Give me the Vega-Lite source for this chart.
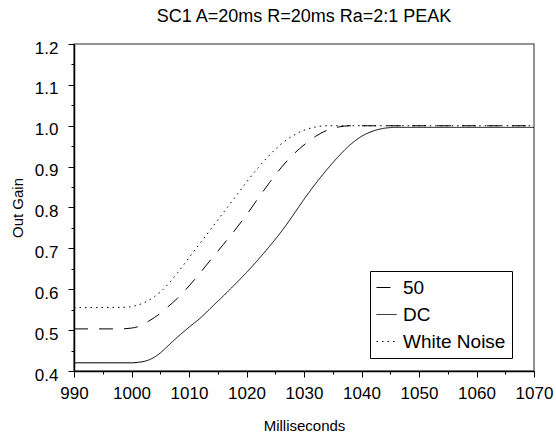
{
  "$schema": "https://vega.github.io/schema/vega-lite/v6.json",
  "width": 460,
  "height": 327,
  "autosize": "none",
  "padding": {"left": 74, "top": 44, "right": 22, "bottom": 66},
  "background": "white",
  "title": {"text": "SC1 A=20ms R=20ms Ra=2:1 PEAK", "font": "Liberation Sans", "fontSize": 18, "fontWeight": "normal", "color": "black", "anchor": "middle", "offset": 13},
  "config": {
    "view": {"stroke": "#707070", "strokeWidth": 1.5},
    "axis": {"labelFont": "Liberation Sans", "titleFont": "Liberation Sans", "labelFontSize": 17, "titleFontSize": 15, "titleFontWeight": "normal", "labelColor": "black", "titleColor": "black", "domainColor": "black", "domainWidth": 1.5, "tickColor": "black", "tickWidth": 1, "grid": false, "labelFlush": false, "labelOverlap": false},
    "legend": {"labelFont": "Liberation Sans", "labelFontSize": 19, "labelColor": "black"}
  },
  "data": {"values": [
    {"t": 990, "g": 0.503, "s": "50"}, {"t": 998, "g": 0.503, "s": "50"}, {"t": 1000, "g": 0.505, "s": "50"}, {"t": 1001, "g": 0.508, "s": "50"}, {"t": 1002, "g": 0.514, "s": "50"}, {"t": 1003, "g": 0.522, "s": "50"}, {"t": 1004, "g": 0.531, "s": "50"}, {"t": 1005, "g": 0.541, "s": "50"}, {"t": 1006, "g": 0.553, "s": "50"}, {"t": 1008, "g": 0.578, "s": "50"}, {"t": 1010, "g": 0.608, "s": "50"}, {"t": 1012, "g": 0.641, "s": "50"}, {"t": 1014, "g": 0.676, "s": "50"}, {"t": 1016, "g": 0.71, "s": "50"}, {"t": 1018, "g": 0.745, "s": "50"}, {"t": 1020, "g": 0.782, "s": "50"}, {"t": 1022, "g": 0.822, "s": "50"}, {"t": 1024, "g": 0.861, "s": "50"}, {"t": 1026, "g": 0.897, "s": "50"}, {"t": 1028, "g": 0.928, "s": "50"}, {"t": 1030, "g": 0.953, "s": "50"}, {"t": 1032, "g": 0.974, "s": "50"}, {"t": 1034, "g": 0.989, "s": "50"}, {"t": 1036, "g": 0.997, "s": "50"}, {"t": 1038, "g": 1.0, "s": "50"}, {"t": 1070, "g": 1.0, "s": "50"},
    {"t": 990, "g": 0.42, "s": "DC"}, {"t": 1000, "g": 0.42, "s": "DC"}, {"t": 1001, "g": 0.421, "s": "DC"}, {"t": 1002, "g": 0.423, "s": "DC"}, {"t": 1003, "g": 0.427, "s": "DC"}, {"t": 1004, "g": 0.434, "s": "DC"}, {"t": 1005, "g": 0.444, "s": "DC"}, {"t": 1006, "g": 0.457, "s": "DC"}, {"t": 1008, "g": 0.483, "s": "DC"}, {"t": 1010, "g": 0.507, "s": "DC"}, {"t": 1012, "g": 0.53, "s": "DC"}, {"t": 1014, "g": 0.557, "s": "DC"}, {"t": 1016, "g": 0.584, "s": "DC"}, {"t": 1018, "g": 0.612, "s": "DC"}, {"t": 1020, "g": 0.641, "s": "DC"}, {"t": 1022, "g": 0.672, "s": "DC"}, {"t": 1024, "g": 0.705, "s": "DC"}, {"t": 1026, "g": 0.74, "s": "DC"}, {"t": 1028, "g": 0.779, "s": "DC"}, {"t": 1030, "g": 0.82, "s": "DC"}, {"t": 1032, "g": 0.858, "s": "DC"}, {"t": 1034, "g": 0.893, "s": "DC"}, {"t": 1036, "g": 0.925, "s": "DC"}, {"t": 1038, "g": 0.953, "s": "DC"}, {"t": 1040, "g": 0.974, "s": "DC"}, {"t": 1042, "g": 0.987, "s": "DC"}, {"t": 1044, "g": 0.994, "s": "DC"}, {"t": 1046, "g": 0.996, "s": "DC"}, {"t": 1070, "g": 0.996, "s": "DC"},
    {"t": 990, "g": 0.555, "s": "White Noise"}, {"t": 999, "g": 0.556, "s": "White Noise"}, {"t": 1001, "g": 0.561, "s": "White Noise"}, {"t": 1002, "g": 0.566, "s": "White Noise"}, {"t": 1003, "g": 0.573, "s": "White Noise"}, {"t": 1004, "g": 0.582, "s": "White Noise"}, {"t": 1005, "g": 0.593, "s": "White Noise"}, {"t": 1006, "g": 0.607, "s": "White Noise"}, {"t": 1008, "g": 0.64, "s": "White Noise"}, {"t": 1010, "g": 0.677, "s": "White Noise"}, {"t": 1012, "g": 0.714, "s": "White Noise"}, {"t": 1014, "g": 0.751, "s": "White Noise"}, {"t": 1016, "g": 0.788, "s": "White Noise"}, {"t": 1018, "g": 0.825, "s": "White Noise"}, {"t": 1020, "g": 0.862, "s": "White Noise"}, {"t": 1022, "g": 0.897, "s": "White Noise"}, {"t": 1024, "g": 0.928, "s": "White Noise"}, {"t": 1026, "g": 0.955, "s": "White Noise"}, {"t": 1028, "g": 0.975, "s": "White Noise"}, {"t": 1030, "g": 0.989, "s": "White Noise"}, {"t": 1032, "g": 0.997, "s": "White Noise"}, {"t": 1034, "g": 1.0, "s": "White Noise"}, {"t": 1070, "g": 1.0, "s": "White Noise"}
  ]},
  "mark": {"type": "line", "color": "black", "strokeWidth": 1, "interpolate": "monotone", "clip": true},
  "encoding": {
    "x": {"field": "t", "type": "quantitative", "title": "Milliseconds",
      "scale": {"domain": [990, 1070], "nice": false, "zero": false},
      "axis": {"values": [990, 995, 1000, 1005, 1010, 1015, 1020, 1025, 1030, 1035, 1040, 1045, 1050, 1055, 1060, 1065, 1070], "format": "d", "labelExpr": "datum.value % 10 == 0 ? datum.label : ''", "tickSize": {"condition": {"test": "datum.value % 10 != 0", "value": 3}, "value": 6}, "labelPadding": 8, "titlePadding": 17}},
    "y": {"field": "g", "type": "quantitative", "title": "Out Gain",
      "scale": {"domain": [0.4, 1.2], "nice": false, "zero": false},
      "axis": {"values": [0.4, 0.45, 0.5, 0.55, 0.6, 0.65, 0.7, 0.75, 0.8, 0.85, 0.9, 0.95, 1.0, 1.05, 1.1, 1.15, 1.2], "labelExpr": "round(datum.value*100) % 10 == 0 ? format(datum.value, '.1f') : ''", "tickSize": {"condition": {"test": "round(datum.value*100) % 10 != 0", "value": 3}, "value": 6}, "labelPadding": 10, "labelOffset": 4, "titlePadding": 9}},
    "strokeDash": {"field": "s", "type": "nominal",
      "scale": {"domain": ["50", "DC", "White Noise"], "range": [[14, 11], [1, 0], [1.5, 4]]},
      "legend": {"title": null, "orient": "none", "legendX": 296, "legendY": 227, "symbolType": "stroke", "symbolSize": 400, "symbolStrokeWidth": 1, "symbolStrokeColor": "black", "fillColor": "white", "strokeColor": "black", "padding": 6, "rowPadding": 6, "labelOffset": 6, "labelLimit": 250, "labelExpr": "datum.label + '  '"}}
  }
}
